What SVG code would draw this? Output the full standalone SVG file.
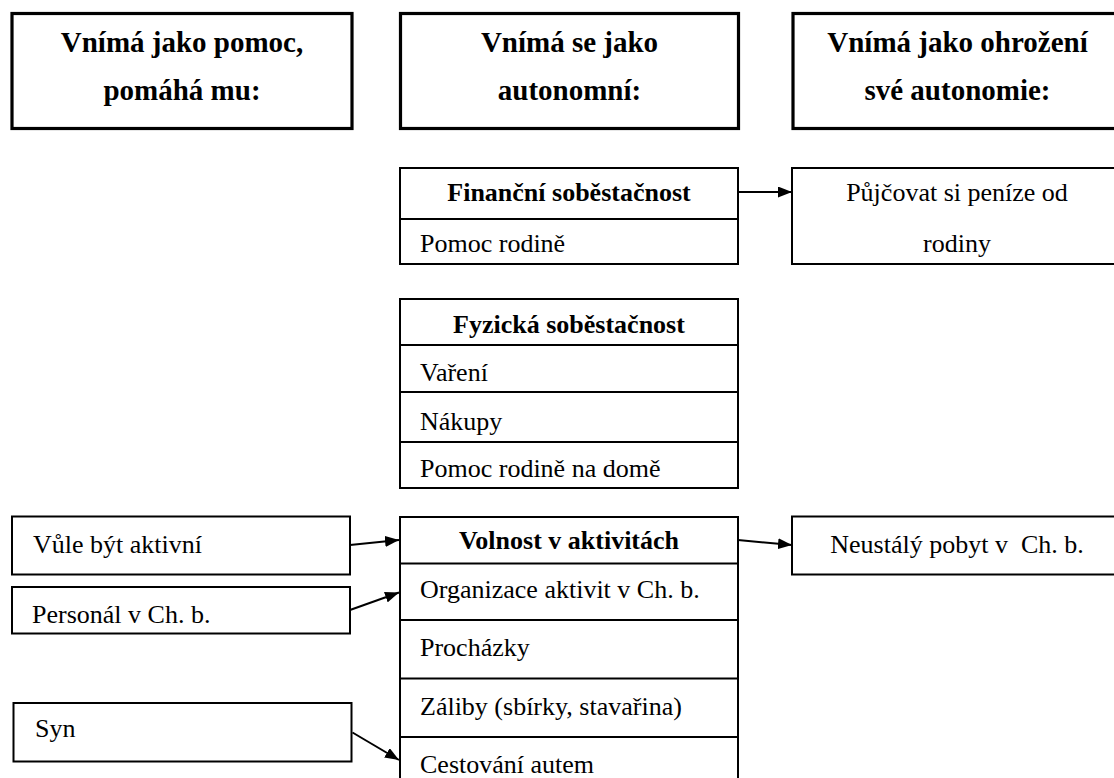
<svg xmlns="http://www.w3.org/2000/svg" width="1114" height="778" viewBox="0 0 1114 778">
  <defs>
    <marker id="arrowhead" viewBox="0 0 14 11" refX="14" refY="5.5" markerWidth="14" markerHeight="11" markerUnits="userSpaceOnUse" orient="auto">
      <path d="M0,0 L14,5.5 L0,11 z" fill="#000"/>
    </marker>
    <style>
      .head { fill: #fff; stroke: #000; stroke-width: 3.2; }
      .box { fill: #fff; stroke: #000; stroke-width: 2; }
      .sep { stroke: #000; stroke-width: 2; }
      .htxt { font-family: "Liberation Serif", "Times New Roman", serif; font-size: 29px; font-weight: bold; text-anchor: middle; fill: #000; }
      .btxt { font-family: "Liberation Serif", "Times New Roman", serif; font-size: 26px; fill: #000; white-space: pre; }
      .bold { font-weight: bold; text-anchor: middle; }
      .mid { text-anchor: middle; }
      .conn { stroke: #000; stroke-width: 2; fill: none; marker-end: url(#arrowhead); }
    </style>
  </defs>
  <rect width="1114" height="778" fill="#fff"/>

  <!-- Column headers -->
  <g id="header-help">
    <rect class="head" x="12" y="13.5" width="340" height="115"/>
    <text class="htxt" x="182" y="52">Vnímá jako pomoc,</text>
    <text class="htxt" x="182" y="100">pomáhá mu:</text>
  </g>
  <g id="header-autonomous">
    <rect class="head" x="400.5" y="13.5" width="338" height="115"/>
    <text class="htxt" x="569.5" y="52">Vnímá se jako</text>
    <text class="htxt" x="569.5" y="100">autonomní:</text>
  </g>
  <g id="header-threat">
    <rect class="head" x="793" y="13.5" width="340" height="115"/>
    <text class="htxt" x="957.5" y="52">Vnímá jako ohrožení</text>
    <text class="htxt" x="957.5" y="100">své autonomie:</text>
  </g>

  <!-- Middle column: financial self-sufficiency -->
  <g id="financial">
    <rect class="box" x="400" y="168" width="338" height="96"/>
    <line class="sep" x1="400" y1="219" x2="738" y2="219"/>
    <text class="btxt bold" x="569" y="201">Finanční soběstačnost</text>
    <text class="btxt" x="420" y="252">Pomoc rodině</text>
  </g>

  <!-- Middle column: physical self-sufficiency -->
  <g id="physical">
    <rect class="box" x="400" y="299" width="338" height="189"/>
    <line class="sep" x1="400" y1="345" x2="738" y2="345"/>
    <line class="sep" x1="400" y1="392" x2="738" y2="392"/>
    <line class="sep" x1="400" y1="442" x2="738" y2="442"/>
    <text class="btxt bold" x="569" y="333">Fyzická soběstačnost</text>
    <text class="btxt" x="420" y="381">Vaření</text>
    <text class="btxt" x="420" y="430">Nákupy</text>
    <text class="btxt" x="420" y="477">Pomoc rodině na domě</text>
  </g>

  <!-- Middle column: freedom in activities -->
  <g id="activities">
    <rect class="box" x="400" y="517" width="338" height="300"/>
    <line class="sep" x1="400" y1="563.5" x2="738" y2="563.5"/>
    <line class="sep" x1="400" y1="620" x2="738" y2="620"/>
    <line class="sep" x1="400" y1="678.5" x2="738" y2="678.5"/>
    <line class="sep" x1="400" y1="737" x2="738" y2="737"/>
    <text class="btxt bold" x="569" y="549">Volnost v aktivitách</text>
    <text class="btxt" x="420" y="598">Organizace aktivit v Ch. b.</text>
    <text class="btxt" x="420" y="656">Procházky</text>
    <text class="btxt" x="420" y="715">Záliby (sbírky, stavařina)</text>
    <text class="btxt" x="420" y="773">Cestování autem</text>
  </g>

  <!-- Right column -->
  <g id="borrowing">
    <rect class="box" x="792" y="168" width="330" height="96"/>
    <text class="btxt mid" x="957" y="201">Půjčovat si peníze od</text>
    <text class="btxt mid" x="957" y="252">rodiny</text>
  </g>
  <g id="constant-stay">
    <rect class="box" x="792" y="516.5" width="330" height="58"/>
    <text class="btxt mid" x="957" y="553" xml:space="preserve">Neustálý pobyt v  Ch. b.</text>
  </g>

  <!-- Left column -->
  <g id="will-active">
    <rect class="box" x="12" y="516.5" width="338" height="58"/>
    <text class="btxt" x="33" y="553">Vůle být aktivní</text>
  </g>
  <g id="staff">
    <rect class="box" x="12" y="587" width="338" height="46.5"/>
    <text class="btxt" x="32" y="623">Personál v Ch. b.</text>
  </g>
  <g id="son">
    <rect class="box" x="13.5" y="703" width="338" height="58.5"/>
    <text class="btxt" x="35" y="737">Syn</text>
  </g>

  <!-- Connectors -->
  <g id="connectors">
    <line class="conn" x1="738" y1="192" x2="792" y2="192"/>
    <line class="conn" x1="738" y1="540" x2="792" y2="545"/>
    <line class="conn" x1="350" y1="545" x2="399" y2="540"/>
    <line class="conn" x1="350" y1="610" x2="399" y2="592.5"/>
    <line class="conn" x1="352.5" y1="732.5" x2="399" y2="760"/>
  </g>
</svg>
